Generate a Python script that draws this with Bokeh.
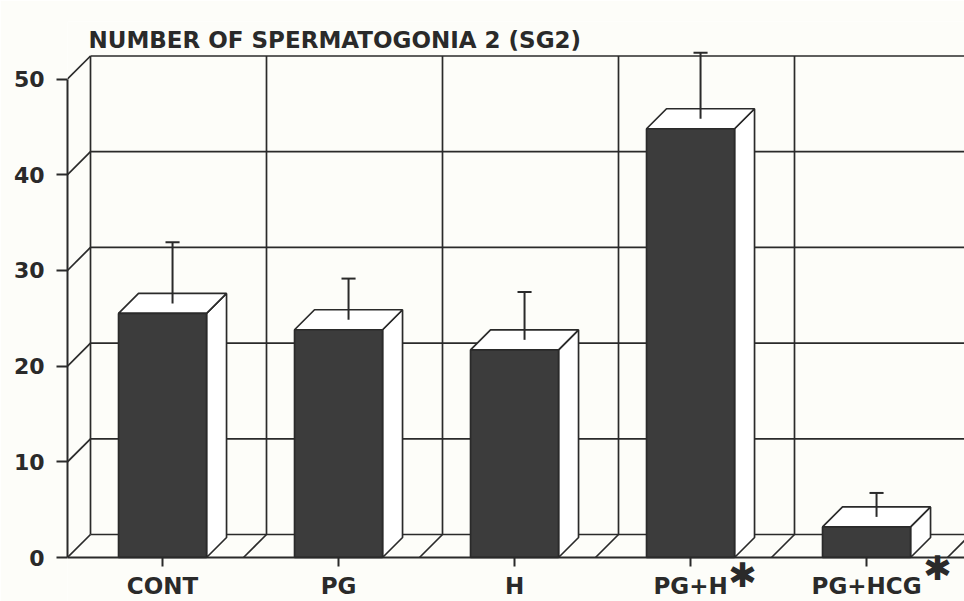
from bokeh.plotting import figure
from bokeh.models import Range1d, FixedTicker, Label
from bokeh.embed import file_html
from bokeh.resources import INLINE

# ---- data ----
categories = ["CONT", "PG", "H", "PG+H", "PG+HCG"]
means = [25.5, 23.8, 21.7, 44.8, 3.2]
errors = [6.4, 4.3, 5.0, 6.9, 2.5]
significant = [False, False, False, True, True]
y_ticks = [0, 10, 20, 30, 40, 50]
title_text = "NUMBER OF SPERMATOGONIA 2 (SG2)"

# ---- geometry / style ----
W, H = 964, 601
BL, BT = 67, 21
FRAME_W = W - BL
FRAME_H = H - BT
PX_Y = 9.57
Y_START = -44 / PX_Y          # room below the floor for category labels
Y_END = Y_START + FRAME_H / PX_Y
PX_X = 176.0
X0 = -0.54
X1 = X0 + FRAME_W / PX_X
DXW, DYW = 23 / PX_X, 23 / PX_Y      # wall depth
DXB, DYB = 20 / PX_X, 20 / PX_Y      # bar depth
HALF = 0.25
INK = "#2a2a2a"
BAR = "#3c3c3c"
BG = "#fdfdf9"
LW = 1.7

p = figure(width=W, height=H, output_backend="svg", toolbar_location=None,
           x_range=Range1d(X0, X1), y_range=Range1d(Y_START, Y_END),
           min_border_left=BL, min_border_right=0, min_border_top=BT,
           min_border_bottom=0)
p.background_fill_color = BG
p.border_fill_color = BG
p.outline_line_color = None
p.grid.visible = False

# back wall and side wall
top = max(y_ticks)
bx0, by0, bx1, by1 = [], [], [], []
for v in y_ticks:
    bx0.append(X0 + DXW); by0.append(v + DYW); bx1.append(X1 + 1); by1.append(v + DYW)
    bx0.append(X0); by0.append(v); bx1.append(X0 + DXW); by1.append(v + DYW)
for i in range(len(categories) + 1):
    bx0.append(X0 + i + DXW); by0.append(DYW); bx1.append(X0 + i + DXW); by1.append(top + DYW)
    if i > 0:
        bx0.append(X0 + i); by0.append(0); bx1.append(X0 + i + DXW); by1.append(DYW)
p.segment(x0=bx0, y0=by0, x1=bx1, y1=by1, line_color=INK, line_width=LW)

# bars
front_l, front_r, front_t = [], [], []
tops_x, tops_y, side_x, side_y = [], [], [], []
for i, m in enumerate(means):
    l, r = i - HALF, i + HALF
    front_l.append(l); front_r.append(r); front_t.append(m)
    tops_x.append([l, r, r + DXB, l + DXB]); tops_y.append([m, m, m + DYB, m + DYB])
    side_x.append([r, r + DXB, r + DXB, r]); side_y.append([0, DYB, m + DYB, m])

p.patches(xs=side_x, ys=side_y, fill_color="white", line_color=INK, line_width=LW)
p.patches(xs=tops_x, ys=tops_y, fill_color="white", line_color=INK, line_width=LW)
p.quad(left=front_l, right=front_r, bottom=0, top=front_t, fill_color=BAR,
       line_color=INK, line_width=LW)

# error bars
ex = [i + DXB / 2 for i in range(len(means))]
ey0 = [m + DYB / 2 for m in means]
ey1 = [m + DYB / 2 + e for m, e in zip(means, errors)]
p.segment(x0=ex, y0=ey0, x1=ex, y1=ey1, line_color=INK, line_width=2)
p.segment(x0=[x - 0.04 for x in ex], y0=ey1, x1=[x + 0.04 for x in ex], y1=ey1,
          line_color=INK, line_width=2)

# axes
p.xaxis.fixed_location = 0
p.xaxis.ticker = FixedTicker(ticks=list(range(len(categories))))
p.xaxis.major_label_overrides = {i: c for i, c in enumerate(categories)}
p.xaxis.major_tick_in = 0
p.xaxis.major_tick_out = 9
p.xaxis.major_label_standoff = 6
p.yaxis.ticker = FixedTicker(ticks=y_ticks)
p.yaxis.bounds = (0, top)
p.yaxis.major_tick_in = 0
p.yaxis.major_tick_out = 11
p.yaxis.major_label_standoff = 12
for ax in (p.xaxis, p.yaxis):
    ax.axis_line_color = INK
    ax.axis_line_width = 2
    ax.major_tick_line_color = INK
    ax.major_tick_line_width = 2
    ax.minor_tick_line_color = None
    ax.major_label_text_font = "DejaVu Sans"
    ax.major_label_text_font_style = "bold"
    ax.major_label_text_color = INK
p.xaxis.major_label_text_font_size = "23px"
p.yaxis.major_label_text_font_size = "22px"

# title (baseline 18 px below the top of the plotting area)
p.add_layout(Label(x=X0 + 21 / PX_X, y=Y_END - 18 / PX_Y, text=title_text,
                   text_font="DejaVu Sans", text_font_size="23px",
                   text_font_style="bold", text_color=INK,
                   text_align="left", text_baseline="alphabetic"))

# significance asterisks
star_dx = {3: 52, 4: 71}
star_dy = {3: 17, 4: 10}
for i, s in enumerate(significant):
    if s:
        p.add_layout(Label(x=i + star_dx[i] / PX_X, y=-star_dy[i] / PX_Y, text="\u2731",
                           text_font="DejaVu Sans", text_font_size="34px",
                           text_font_style="bold", text_color=INK,
                           text_align="center", text_baseline="middle"))

open("out.html", "w").write(file_html(p, INLINE))
